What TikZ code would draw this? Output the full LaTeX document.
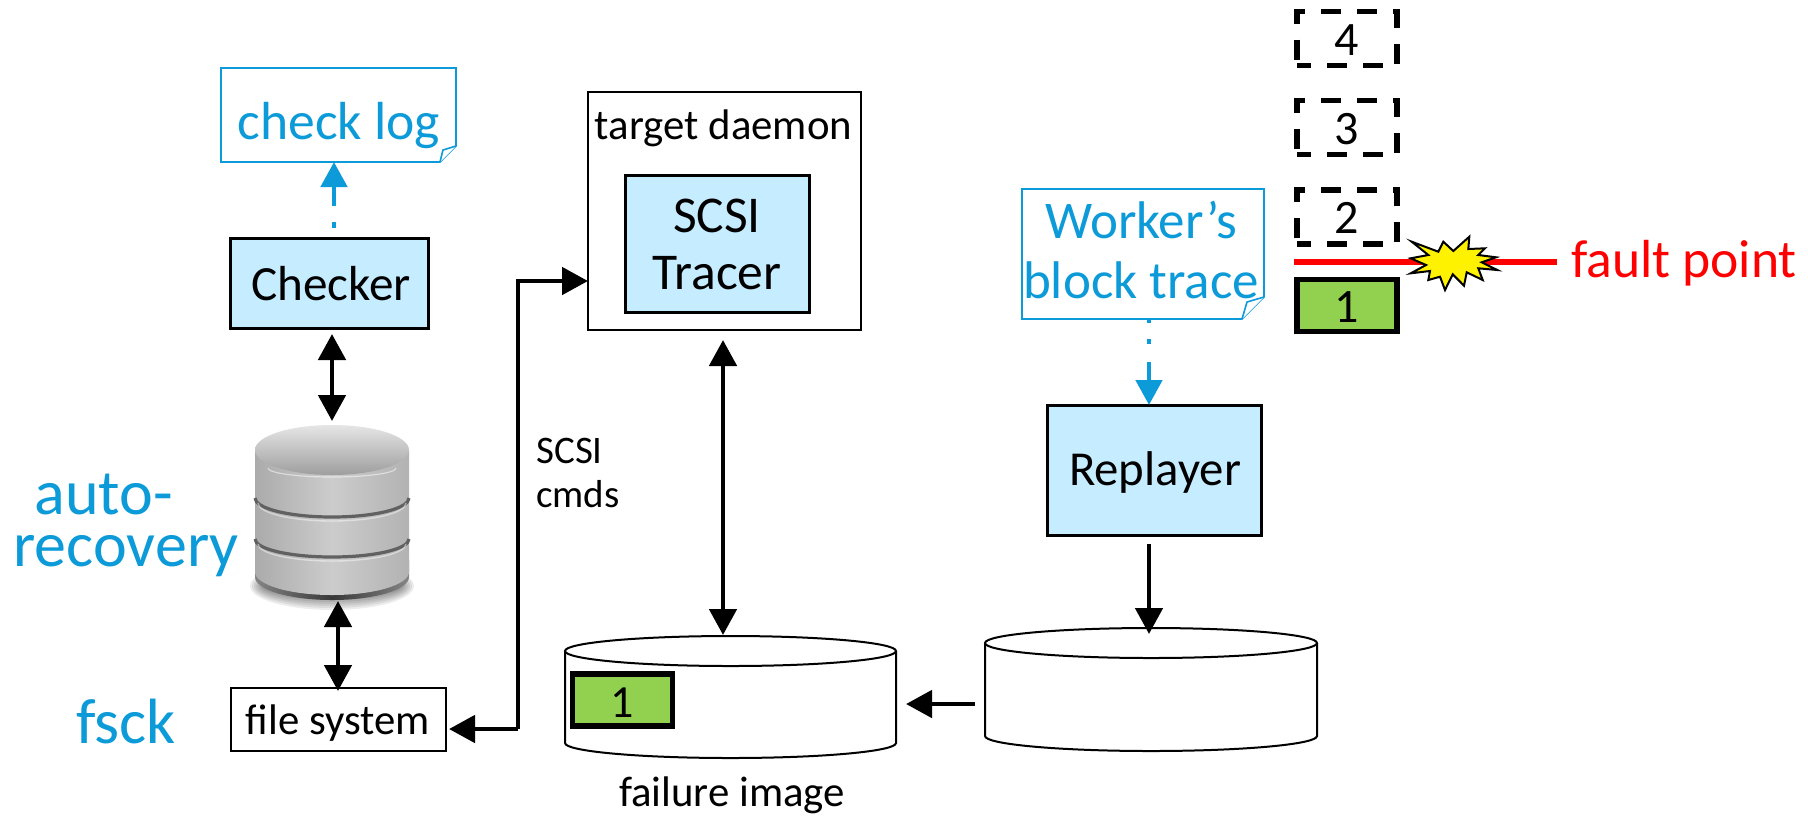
\documentclass[tikz,border=0pt]{standalone}
\usepackage{fontspec}
\setmainfont{Carlito}
\usetikzlibrary{arrows.meta,shadings,fadings}
\definecolor{lblue}{HTML}{C5ECFF}
\definecolor{nblue}{HTML}{0C9BD8}
\definecolor{lgreen}{HTML}{92D050}
\newcommand{\fsz}[2]{\fontsize{#1}{#2}\selectfont}
\tikzset{
 x=0.5pt,y=-0.5pt,
 every node/.style={inner sep=0,outer sep=0,align=center},
 bk/.style={draw=black,line width=1.5pt,fill=lblue},
 wb/.style={draw=black,line width=1.3pt,fill=white},
 green/.style={draw=black,line width=2.7pt,fill=lgreen},
 dbox/.style={draw=black,line width=2.6pt,dash pattern=on 10pt off 8pt,dash phase=3pt},
 tip/.style={-{Triangle[length=13pt,width=13.5pt]},line width=2.4pt},
 dtip/.style={{Triangle[length=13pt,width=13.5pt]}-{Triangle[length=13pt,width=13.5pt]},line width=2.4pt},
 btip/.style={-{Triangle[length=12.5pt,width=13pt]},draw=nblue,color=nblue,line width=2.4pt},
 note/.style={draw=nblue,line width=0.8pt,fill=white},
 bluet/.style={text=nblue},
 blackt/.style={text=black,font=\fsz{21.4}{24}},
 digit/.style={text=black,font=\fsz{24}{26}},
 cyl/.style={draw=black,line width=1pt,fill=white},
}
\begin{document}
\begin{tikzpicture}
\useasboundingbox (0,0) rectangle (1808,816);
\fill[white] (0,0) rectangle (1808,816);
% check log note
\draw[note] (221,68) -- (456,68) -- (456,146) -- (440,162) -- (221,162) -- cycle;
\draw[draw=nblue,line width=0.8pt,fill=white] (456,146) -- (443,150) -- (440,162);
\node[bluet,font=\fsz{26.8}{30}] (chklog) at (339,125) {check log};
% checker
\node[bk,minimum width=99pt,minimum height=45pt] (checker) at (329,283) {};
\node[blackt,font=\fsz{24.6}{27}] at (331,284) {Checker};
\coordinate (cl1) at (334,228);
\coordinate (cl2) at (334,162);
\draw[btip,dash pattern=on 3pt off 8pt on 30pt] (cl1) -- (cl2);
% database
\foreach \r in {0,2,...,12} {
  \fill[black,opacity=0.07] (332,586) ellipse [x radius=70+\r,y radius=12+\r];
}
\shade[left color=black!48,right color=black!48,middle color=black!78] (255,560) -- (255,577) arc[start angle=180,end angle=360,x radius=77,y radius=-23] -- (409,560) -- cycle;
\shade[left color=black!33,right color=black!30,middle color=black!20]
 (255,450) -- (255,572) arc[start angle=180,end angle=360,x radius=77,y radius=-23] -- (409,450) -- cycle;
\shade[left color=black!10,right color=black!38,shading angle=0] (332,450) ellipse [x radius=77,y radius=25];
\draw[black!62,line width=1.6pt] (255,498) arc[start angle=180,end angle=360,x radius=77,y radius=-19];
\draw[black!62,line width=1.6pt] (255,539) arc[start angle=180,end angle=360,x radius=77,y radius=-18];
\draw[white,opacity=.45,line width=.7pt] (258,503) arc[start angle=180,end angle=360,x radius=74,y radius=-18];
\draw[white,opacity=.45,line width=.7pt] (258,544) arc[start angle=180,end angle=360,x radius=74,y radius=-17];
\draw[white,opacity=.5,line width=.6pt] (268,468) arc[start angle=180,end angle=360,x radius=64,y radius=-9];
\node (db) at (332,512) [minimum width=77pt,minimum height=88pt] {};
% db arrows
\coordinate (a1) at (332,334); \coordinate (a2) at (332,421);
\draw[dtip] (a1) -- (a2);
\node[wb,minimum width=107.5pt,minimum height=31.5pt] (fs) at (338.5,719.5) {};
\node[blackt] at (338,723) {file system};
\coordinate (a3) at (338,601); \coordinate (a4) at (338,691);
\draw[dtip] (a3) -- (a4);
% scsi path
\node[wb,minimum width=136.5pt,minimum height=119pt] (td) at (724.5,211) {};
\node[blackt] at (723.5,128) {target daemon};
\node[bk,minimum width=92pt,minimum height=68.5pt] (tracer) at (717,243.5) {};
\node[blackt,font=\fsz{25.8}{28.5}] at (717,244) {SCSI\\Tracer};
\coordinate (p0) at (518,729); \coordinate (p1) at (518,281); \coordinate (p2) at (588,281); \coordinate (p3) at (449,729);
\draw[tip] (p0) -- (p1) -- (p2);
\draw[tip] (p0) -- (p3);
\node[blackt,align=left,font=\fsz{19.5}{22}] at (578,473) {SCSI\\cmds};
% left cylinder
\draw[cyl] (565,651) -- (565,743) arc[start angle=180,end angle=360,x radius=165.5,y radius=-15] -- (896,651);
\draw[cyl,fill=white] (730.5,651) ellipse [x radius=165.5,y radius=15];
\coordinate (a5) at (723,340); \coordinate (a6) at (723,635);
\draw[dtip] (a5) -- (a6);
\node[green,minimum width=50pt,minimum height=26pt] (g1) at (622.5,700) {};
\node[digit,font=\fsz{23}{26}] at (622,703) {1};
\node[blackt] at (732,795) {failure image};
% right cylinder
\draw[cyl] (985,643) -- (985,736) arc[start angle=180,end angle=360,x radius=166,y radius=-15] -- (1317,643);
\draw[cyl,fill=white] (1151,643) ellipse [x radius=166,y radius=15];
\coordinate (a7) at (975,704); \coordinate (a8) at (906,704);
\draw[tip] (a7) -- (a8);
% replayer
\node[bk,minimum width=107pt,minimum height=65pt] (rep) at (1154,470) {};
\node[blackt,font=\fsz{24.4}{27}] at (1155,472) {Replayer};
\coordinate (a9) at (1149,544); \coordinate (a10) at (1149,634);
\draw[tip] (a9) -- (a10);
% worker note
\draw[note] (1022,189) -- (1264,189) -- (1264,297) -- (1242,319) -- (1022,319) -- cycle;
\draw[draw=nblue,line width=0.8pt,fill=white] (1264,297) -- (1247,302) -- (1242,319);
\node[bluet,font=\fsz{26.5}{30}] (wk) at (1141,250) {Worker’s\\block trace};
\coordinate (b1) at (1149,319); \coordinate (b2) at (1149,405);
\draw[btip,dash pattern=on 2pt off 8pt on 2.5pt off 9pt on 30pt] (b1) -- (b2);
% blocks
\node[dbox,minimum width=50pt,minimum height=27pt] (b4) at (1347,38.5) {};
\node[dbox,minimum width=50pt,minimum height=27pt] (b3) at (1347,127.5) {};
\node[dbox,minimum width=50pt,minimum height=27pt] (b2box) at (1347,217) {};
\node[digit] at (1347,40) {4};
\node[digit] at (1347,129) {3};
\node[digit] at (1347,218) {2};
\node[green,minimum width=50pt,minimum height=26pt] (b1box) at (1347,305.5) {};
\node[digit] at (1347,307) {1};
% fault line
\coordinate (f1) at (1294,262); \coordinate (f2) at (1557,262);
\draw[red,line width=2.7pt] (f1) -- (f2);
\draw[fill=yellow,draw=black,line width=1pt,line join=miter] (1411.7,241.7) -- (1438.3,251.7) -- (1443.3,241.7) -- (1453.3,251) -- (1469.3,236.7) -- (1468.3,249) -- (1485,248.3) -- (1478.3,255) -- (1496,257.3) -- (1481.7,262.3) -- (1497.3,270) -- (1478.3,268.3) -- (1482.7,280) -- (1466.7,272.3) -- (1464,285.7) -- (1452.7,274.3) -- (1445,290) -- (1440,276.7) -- (1428.3,280) -- (1430,271) -- (1410.7,273.3) -- (1426,265) -- (1410.7,258.3) -- (1428.3,255) -- cycle;
\node[text=red,font=\fsz{26.8}{30}] at (1684,263) {fault point};
% side labels
\node[bluet,font=\fsz{32}{26},align=left] (auto) at (126,525) {\hspace*{10.5pt}auto-\\recovery};
\node[bluet,font=\fsz{32}{36}] (fsck) at (126,721) {fsck};
\end{tikzpicture}
\end{document}
